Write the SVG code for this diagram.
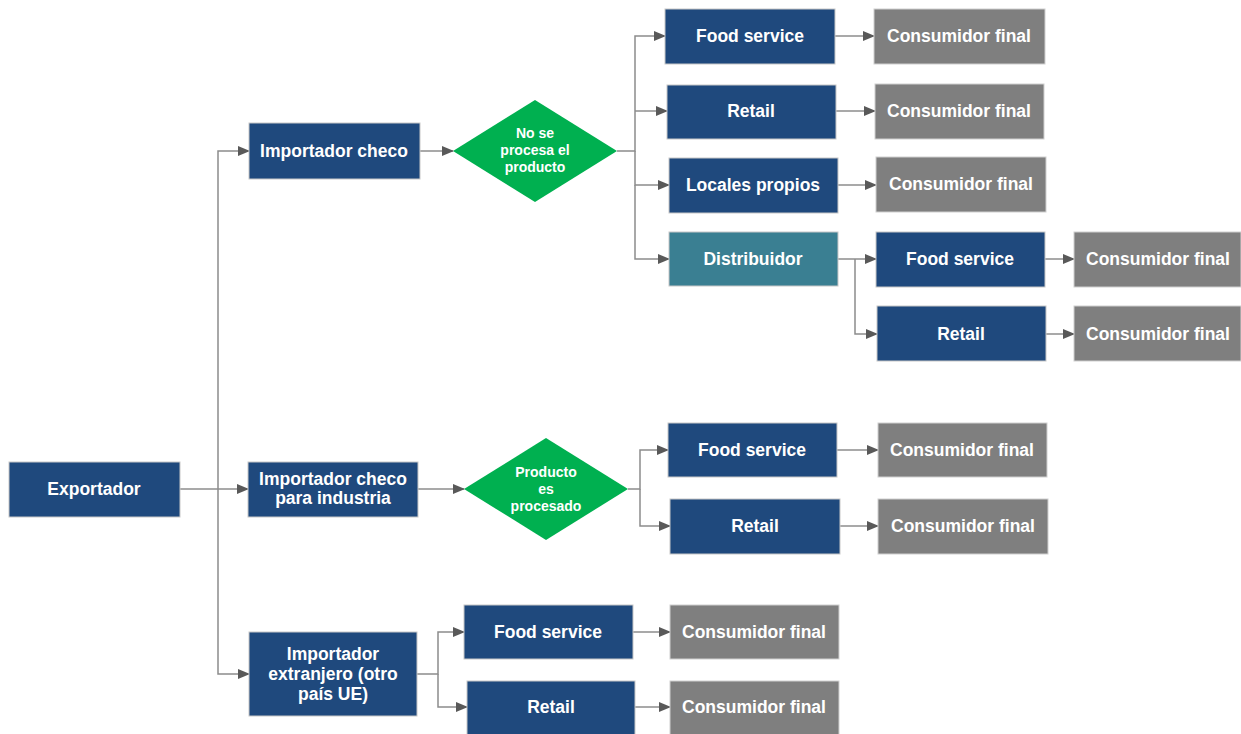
<svg xmlns="http://www.w3.org/2000/svg" width="1241" height="734" viewBox="0 0 1241 734">
<defs>
<marker id="ah" markerWidth="12" markerHeight="10" refX="11" refY="5" orient="auto" markerUnits="userSpaceOnUse">
<path d="M0,0 L12,5 L0,10 Z" fill="#595959"/>
</marker>
<style>
.n{fill:#1F497D;stroke:#C8C8C8;stroke-width:1}
.g{fill:#7F7F7F;stroke:#D0D0D0;stroke-width:1}
.t{fill:#3A7F92;stroke:#C8C8C8;stroke-width:1}
.d{fill:#00B050}
text{font-family:"Liberation Sans",Arial,sans-serif;font-weight:bold;fill:#FFFFFF;text-anchor:middle;font-size:17.5px}
.s{font-size:14px}
.c path{fill:none;stroke:#8C8C8C;stroke-width:1.5;marker-end:url(#ah)}
</style>
</defs>
<rect width="1241" height="734" fill="#FFFFFF"/>
<g class="c" id="connectors">
<path d="M180,489 H248"/>
<path d="M218,489 V151 H249"/>
<path d="M218,489 V674 H249"/>
<path d="M420,151 H453"/>
<path d="M617,151 H635 V36 H665"/>
<path d="M635,111 H667"/>
<path d="M635,151 V185 H669"/>
<path d="M635,185 V259 H669"/>
<path d="M835,36 H874"/>
<path d="M836,111 H875"/>
<path d="M838,185 H876"/>
<path d="M838,259 H876"/>
<path d="M855,259 V334 H877"/>
<path d="M1045,259 H1074"/>
<path d="M1046,334 H1074"/>
<path d="M418,489 H464"/>
<path d="M628,489 H640 V450 H668"/>
<path d="M640,489 V526 H670"/>
<path d="M837,450 H878"/>
<path d="M840,526 H878"/>
<path d="M417,674 H438 V632 H464"/>
<path d="M438,674 V707 H467"/>
<path d="M633,632 H670"/>
<path d="M635,707 H670"/>
</g>
<g id="exportador"><rect class="n" x="9" y="462" width="171" height="55"/><text x="94" y="495">Exportador</text></g>
<g id="imp-checo"><rect class="n" x="249" y="123" width="171" height="56"/><text x="334" y="157">Importador checo</text></g>
<g id="dec1"><polygon class="d" points="535,100 617,151 535,202 453,151"/><text class="s" x="535" y="138">No se</text><text class="s" x="535" y="155">procesa el</text><text class="s" x="535" y="172">producto</text></g>
<g id="fs1"><rect class="n" x="665" y="9" width="170" height="55"/><text x="750" y="42">Food service</text></g>
<g id="cf1"><rect class="g" x="874" y="9" width="171" height="55"/><text x="959" y="42">Consumidor final</text></g>
<g id="rt1"><rect class="n" x="667" y="85" width="169" height="54"/><text x="751" y="117">Retail</text></g>
<g id="cf2"><rect class="g" x="875" y="84" width="169" height="55"/><text x="959" y="117">Consumidor final</text></g>
<g id="lp"><rect class="n" x="669" y="158" width="169" height="55"/><text x="753" y="191">Locales propios</text></g>
<g id="cf3"><rect class="g" x="876" y="157" width="170" height="55"/><text x="961" y="190">Consumidor final</text></g>
<g id="dist"><rect class="t" x="669" y="232" width="169" height="54"/><text x="753" y="265">Distribuidor</text></g>
<g id="fs2"><rect class="n" x="876" y="232" width="169" height="55"/><text x="960" y="265">Food service</text></g>
<g id="cf4"><rect class="g" x="1074" y="232" width="167" height="55"/><text x="1158" y="265">Consumidor final</text></g>
<g id="rt2"><rect class="n" x="877" y="306" width="169" height="55"/><text x="961" y="340">Retail</text></g>
<g id="cf5"><rect class="g" x="1074" y="306" width="167" height="55"/><text x="1158" y="340">Consumidor final</text></g>
<g id="imp-ind"><rect class="n" x="248" y="462" width="170" height="55"/><text x="333" y="485">Importador checo</text><text x="333" y="504">para industria</text></g>
<g id="dec2"><polygon class="d" points="546,438 628,489 546,540 464,489"/><text class="s" x="546" y="477">Producto</text><text class="s" x="546" y="494">es</text><text class="s" x="546" y="511">procesado</text></g>
<g id="fs3"><rect class="n" x="668" y="423" width="169" height="54"/><text x="752" y="456">Food service</text></g>
<g id="cf6"><rect class="g" x="878" y="423" width="169" height="54"/><text x="962" y="456">Consumidor final</text></g>
<g id="rt3"><rect class="n" x="670" y="499" width="170" height="55"/><text x="755" y="532">Retail</text></g>
<g id="cf7"><rect class="g" x="878" y="499" width="170" height="55"/><text x="963" y="532">Consumidor final</text></g>
<g id="imp-ext"><rect class="n" x="249" y="632" width="168" height="84"/><text x="333" y="660">Importador</text><text x="333" y="680">extranjero (otro</text><text x="333" y="700">país UE)</text></g>
<g id="fs4"><rect class="n" x="464" y="605" width="169" height="54"/><text x="548" y="638">Food service</text></g>
<g id="cf8"><rect class="g" x="670" y="605" width="169" height="54"/><text x="754" y="638">Consumidor final</text></g>
<g id="rt4"><rect class="n" x="467" y="681" width="168" height="55"/><text x="551" y="713">Retail</text></g>
<g id="cf9"><rect class="g" x="670" y="681" width="169" height="55"/><text x="754" y="713">Consumidor final</text></g>
</svg>
